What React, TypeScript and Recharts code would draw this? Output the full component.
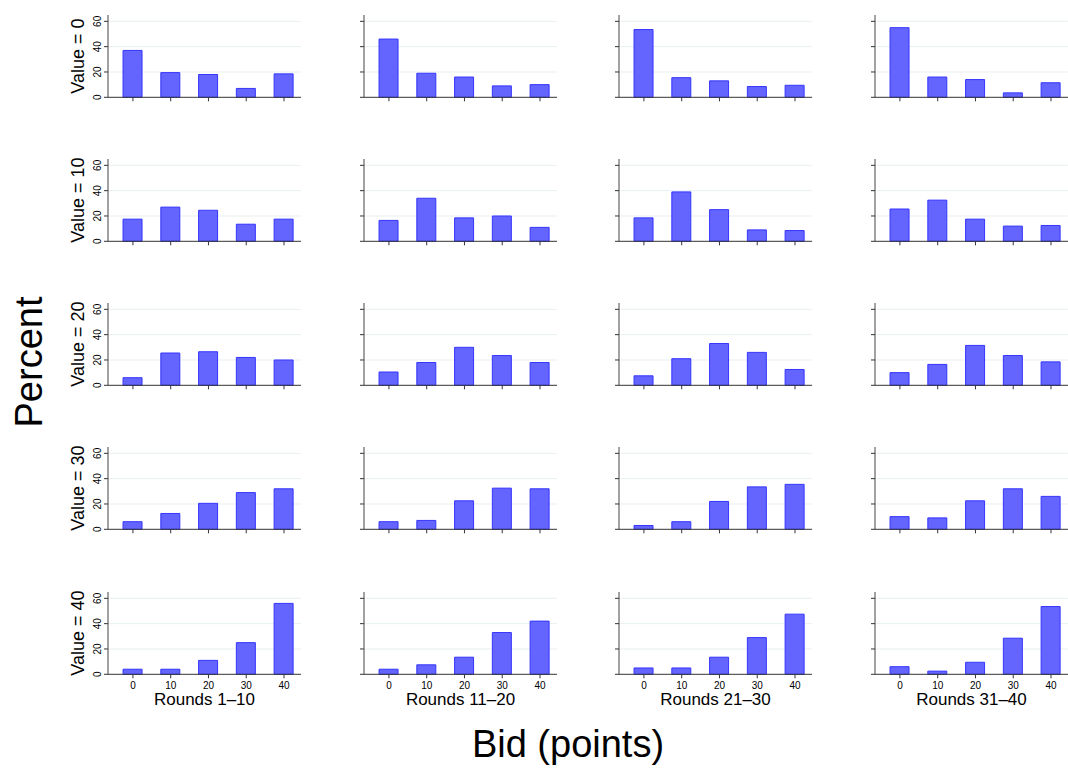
import React from 'react';
import { BarChart, Bar, XAxis, YAxis, CartesianGrid } from 'recharts';

const bids = [0, 10, 20, 30, 40];
const roundLabels = ['Rounds 1–10', 'Rounds 11–20', 'Rounds 21–30', 'Rounds 31–40'];
const valueLabels = ['Value = 0', 'Value = 10', 'Value = 20', 'Value = 30', 'Value = 40'];
const yTicks = [0, 20, 40, 60];

// percent of bids at each bid level; one list per block of rounds
const value0 = [
  [37, 19.5, 18, 7, 18.5],
  [46, 19, 16, 9, 10],
  [53.5, 15.5, 13, 8.5, 9.5],
  [55, 16, 14, 3.5, 11.5],
];
const value10 = [
  [17.5, 27, 24.5, 13.5, 17.5],
  [16.5, 34, 18.5, 20, 11],
  [18.5, 39, 25, 9, 8.5],
  [25.5, 32.5, 17.5, 12, 12.5],
];
const value20 = [
  [6, 25.5, 26.5, 22, 20],
  [10.5, 18, 30, 23.5, 18],
  [7.5, 21, 33, 26, 12.5],
  [10, 16.5, 31.5, 23.5, 18.5],
];
const value30 = [
  [6, 12.5, 20.5, 29, 32],
  [6, 7, 22.5, 32.5, 32],
  [3, 6, 22, 33.5, 35.5],
  [10, 9, 22.5, 32, 26],
];
const value40 = [
  [4, 4, 11, 25, 56],
  [4, 7.5, 13.5, 33, 42],
  [5, 5, 13.5, 29, 47.5],
  [6, 2.5, 9.5, 28.5, 53.5],
];
const rows = [value0, value10, value20, value30, value40];

// layout
const PLOT_LEFT = 108;
const COL_STEP = 255.7;
const BASE = 97;
const ROW_STEP = 144.25;
const PLOT_W = 193;
const PLOT_H = 82.3;
const Y_W = 45;
const TOP_M = 5;
const X_H = 40;
const FONT = '"Liberation Sans", Arial, sans-serif';

const yTick = (props: any) => {
  const { x, y, payload } = props;
  return (
    <text x={x} y={y} transform={`rotate(-90 ${x} ${y})`} textAnchor="middle" fontSize={10} fill="#000">
      {payload.value}
    </text>
  );
};

const xTick = (props: any) => {
  const { x, y, payload } = props;
  return (
    <text x={x} y={y} dy="0.71em" textAnchor="middle" fontSize={10} fill="#000">
      {payload.value}
    </text>
  );
};

const noTick = () => <g />;

const Panel = ({ r, c }: { r: number; c: number }) => {
  const data = bids.map((b, i) => ({ bid: b, pct: rows[r][c][i] }));
  const first = c === 0;
  const last = r === rows.length - 1;
  // row title sits in the y-axis band, centred on the axis
  const lx = 21;
  const ly = TOP_M + PLOT_H / 2;
  return (
    <div
      style={{
        position: 'absolute',
        left: PLOT_LEFT + c * COL_STEP - Y_W,
        top: BASE + r * ROW_STEP - PLOT_H - TOP_M,
      }}
    >
      <BarChart
        width={Y_W + PLOT_W}
        height={TOP_M + PLOT_H + X_H}
        data={data}
        margin={{ top: TOP_M, right: 0, bottom: 0, left: 0 }}
      >
        <CartesianGrid vertical={false} stroke="#e8f0f1" horizontalValues={[20, 40, 60]} />
        <XAxis
          dataKey="bid"
          type="number"
          domain={[-6.6, 44.5]}
          ticks={bids}
          height={X_H}
          tickSize={4}
          tickMargin={4}
          axisLine={{ stroke: '#333' }}
          tickLine={{ stroke: '#333' }}
          tick={last ? xTick : noTick}
          label={
            last
              ? {
                  content: () => (
                    <text
                      x={Y_W + PLOT_W / 2}
                      y={TOP_M + PLOT_H + 31}
                      textAnchor="middle"
                      fontSize={17}
                      fill="#000"
                    >
                      {roundLabels[c]}
                    </text>
                  ),
                }
              : undefined
          }
        />
        <YAxis
          type="number"
          domain={[0, 65]}
          ticks={yTicks}
          width={Y_W}
          tickSize={4}
          tickMargin={3}
          axisLine={{ stroke: '#444' }}
          tickLine={{ stroke: '#333' }}
          tick={first ? yTick : noTick}
          label={
            first
              ? {
                  content: () => (
                    <text
                      x={lx}
                      y={ly}
                      transform={`rotate(-90 ${lx} ${ly})`}
                      textAnchor="middle"
                      fontSize={18}
                      fill="#000"
                    >
                      {valueLabels[r]}
                    </text>
                  ),
                }
              : undefined
          }
        />
        <Bar dataKey="pct" barSize={19} fill="#6464ff" stroke="#3535ff" strokeWidth={1} isAnimationActive={false} />
      </BarChart>
    </div>
  );
};

export default function App() {
  return (
    <div
      style={{
        position: 'absolute',
        left: 0,
        top: 0,
        width: 1068,
        height: 769,
        overflow: 'hidden',
        background: '#fff',
        fontFamily: FONT,
      }}
    >
      <svg width={1068} height={769} style={{ position: 'absolute', left: 0, top: 0 }}>
        <text x={42} y={362} transform="rotate(-90 42 362)" textAnchor="middle" fontSize={38} fill="#000">
          Percent
        </text>
        <text x={568} y={757} textAnchor="middle" fontSize={38} fill="#000">
          Bid (points)
        </text>
      </svg>
      {rows.map((_, r) => roundLabels.map((__, c) => <Panel key={`${r}-${c}`} r={r} c={c} />))}
    </div>
  );
}
